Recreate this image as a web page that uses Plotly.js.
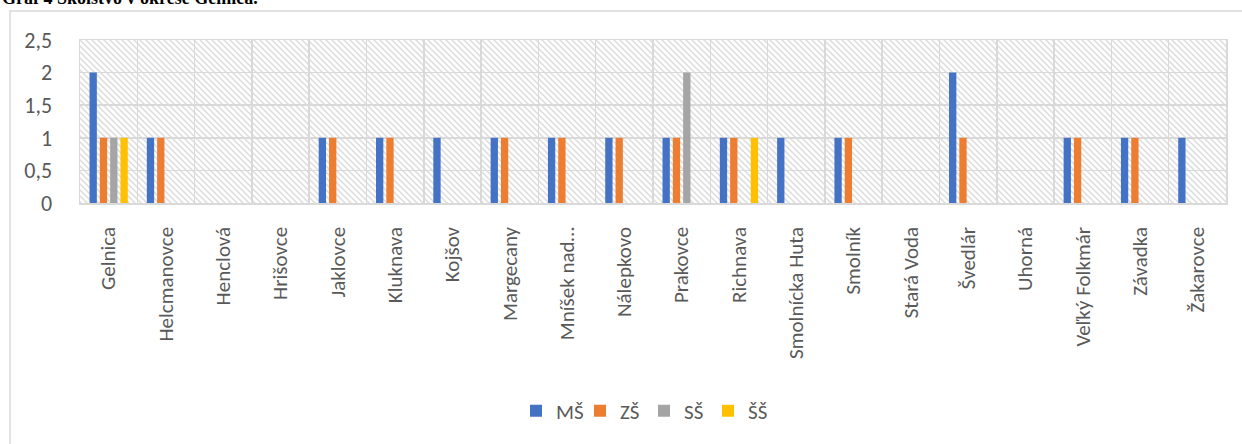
<!DOCTYPE html>
<html>
<head>
<meta charset="utf-8">
<script src="https://cdn.plot.ly/plotly-3.0.1.min.js"></script>
<style>html,body{margin:0;padding:0;background:#fff;}#chart{width:1242px;height:444px;}</style>
</head>
<body>
<div id="chart"></div>
<script>
const categories = ['Gelnica','Helcmanovce','Henclová','Hrišovce','Jaklovce','Kluknava','Kojšov','Margecany','Mníšek nad…','Nálepkovo','Prakovce','Richnava','Smolnícka Huta','Smolník','Stará Voda','Švedlár','Uhorná','Veľký Folkmár','Závadka','Žakarovce'];
const valuesMS = [2,1,0,0,1,1,1,1,1,1,1,1,1,1,0,2,0,1,1,1];
const valuesZS = [1,1,0,0,1,1,0,1,1,1,1,1,0,1,0,1,0,1,1,0];
const valuesSS = [1,0,0,0,0,0,0,0,0,0,2,0,0,0,0,0,0,0,0,0];
const valuesSSS = [1,0,0,0,0,0,0,0,0,0,0,1,0,0,0,0,0,0,0,0];
const seriesNames = ['MŠ','ZŠ','SŠ','ŠŠ'];
const seriesColors = ['#4472C4','#ED7D31','#A5A5A5','#FFC000'];
const yTickVals = [0,0.5,1,1.5,2,2.5];
const titleText = 'Graf 4 Školstvo v okrese Gelnica.';

const W = 1242, H = 444;
const M = {l:80, r:16, t:40, b:241};
const PW = W - M.l - M.r, PH = H - M.t - M.b;
const px2x = p => (p - M.l) / PW;
const py2y = p => (H - M.b - p) / PH;
const FONT = 'Carlito, Lato, sans-serif';
const GRID = '#d9d9d9';

const allValues = [valuesMS, valuesZS, valuesSS, valuesSSS];
const traces = allValues.map((vals, i) => ({
  type: 'bar',
  name: seriesNames[i],
  x: categories,
  y: vals,
  marker: {color: seriesColors[i]},
  hoverinfo: 'x+y+name'
}));

const P = 6;
const hatchSvg = `<svg xmlns="http://www.w3.org/2000/svg" width="${PW}" height="${PH}">` +
  `<defs><pattern id="p" width="${P}" height="${P}" patternUnits="userSpaceOnUse">` +
  `<rect width="${P}" height="${P}" fill="#ffffff"/>` +
  `<path d="M0,0 L${P},${P} M-1,${P-1} L1,${P+1} M${P-1},-1 L${P+1},1" stroke="#dcdcdc" stroke-width="1.5"/>` +
  `</pattern></defs><rect width="${PW}" height="${PH}" fill="url(#p)"/></svg>`;

const layout = {
  width: W, height: H,
  margin: {l:M.l, r:M.r, t:M.t, b:M.b, pad:0},
  paper_bgcolor: '#ffffff',
  plot_bgcolor: 'rgba(0,0,0,0)',
  separators: ', ',
  barmode: 'group',
  bargap: 0.28,
  bargroupgap: 0.29,
  font: {family: FONT, size: 21, color: '#595959'},
  xaxis: {
    type: 'category',
    tickson: 'boundaries',
    showgrid: true, gridcolor: GRID, gridwidth: 1.5,
    showline: true, mirror: true, linecolor: GRID, linewidth: 1.5,
    ticks: '', tickangle: -90,
    tickfont: {family: FONT, size: 21, color: '#595959'},
    ticklabelstandoff: 14,
    fixedrange: true
  },
  yaxis: {
    range: [0, 2.5],
    tickvals: yTickVals,
    showgrid: true, gridcolor: GRID, gridwidth: 1.5,
    zeroline: false,
    showline: true, mirror: true, linecolor: GRID, linewidth: 1.5,
    ticks: '',
    tickfont: {family: FONT, size: 22, color: '#595959'},
    ticklabelstandoff: 22,
    fixedrange: true
  },
  showlegend: true,
  legend: {
    orientation: 'h',
    x: px2x(516), xanchor: 'left',
    y: py2y(411), yanchor: 'middle',
    font: {family: FONT, size: 21, color: '#595959'},
    itemwidth: 30,
    itemgap: 0,
    entrywidth: 19,
    entrywidthmode: 'pixels',
    bgcolor: 'rgba(0,0,0,0)'
  },
  images: [{
    source: 'data:image/svg+xml;charset=utf-8,' + encodeURIComponent(hatchSvg),
    xref: 'paper', yref: 'paper',
    x: 0, y: 1, sizex: 1, sizey: 1,
    xanchor: 'left', yanchor: 'top',
    sizing: 'stretch', layer: 'below'
  }],
  shapes: [{
    type: 'rect', xref: 'paper', yref: 'paper',
    x0: px2x(10), x1: px2x(1260), y0: py2y(470), y1: py2y(11),
    line: {color: GRID, width: 1.5}, fillcolor: 'rgba(0,0,0,0)', layer: 'below'
  }],
  annotations: [{
    text: '<b>' + titleText + '</b>',
    xref: 'paper', yref: 'paper',
    x: px2x(0), xanchor: 'left',
    y: py2y(10), yanchor: 'bottom',
    showarrow: false,
    font: {family: 'Liberation Serif, Times New Roman, serif', size: 18, color: '#000000'}
  }]
};

Plotly.newPlot('chart', traces, layout, {displayModeBar: false, staticPlot: true});
</script>
</body>
</html>
